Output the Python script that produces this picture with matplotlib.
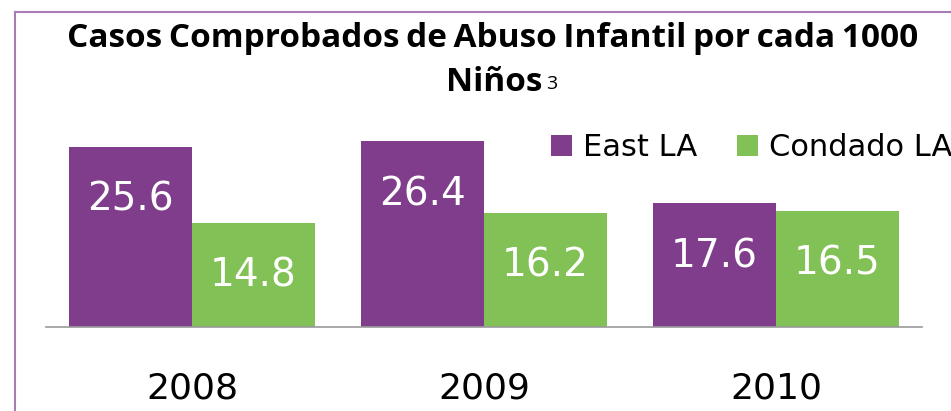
import matplotlib.pyplot as plt
import numpy as np
from matplotlib.font_manager import FontProperties
from matplotlib.textpath import TextPath

years = ['2008', '2009', '2010']
east_la = [25.6, 26.4, 17.6]
condado_la = [14.8, 16.2, 16.5]
series_names = ['East LA', 'Condado LA']
title_line1 = 'Casos Comprobados de Abuso Infantil por cada 1000'
title_line2 = 'Niños'

purple = '#7F3D8B'
green = '#82C155'
body_font = 'DejaVu Sans'
title_font = 'Open Sans'

W, H = 951, 411
fig = plt.figure(figsize=(W / 100, H / 100), dpi=100)
ax = fig.add_axes([46 / W, 84 / H, 876 / W, 211 / H])

x = np.arange(len(years))
width = 0.421
b1 = ax.bar(x - width / 2, east_la, width, color=purple, label=series_names[0])
b2 = ax.bar(x + width / 2, condado_la, width, color=green, label=series_names[1])

# value labels inside the bars, near the top
for rect in list(b1) + list(b2):
    h = rect.get_height()
    ax.annotate(f'{h:.1f}', xy=(rect.get_x() + rect.get_width() / 2, h),
                xytext=(0, -46), textcoords='offset points', ha='center', va='baseline',
                color='white', fontsize=28, family=body_font)

ax.set_xlim(-0.5, 2.5)
ax.set_ylim(0, 30)
ax.set_yticks([])
ax.set_xticks(x)
ax.set_xticklabels(years, fontsize=26, family=body_font)
ax.tick_params(axis='x', length=0, pad=32)
for s in ['left', 'right', 'top']:
    ax.spines[s].set_visible(False)
ax.spines['bottom'].set_color('#9A9A9A')
ax.spines['bottom'].set_linewidth(1.2)

fig.legend(loc='center left', bbox_to_anchor=(551 / W, 1 - 148 / H), ncol=2, frameon=False,
           prop={'family': body_font, 'size': 22}, handlelength=0.69, handleheight=0.69,
           handletextpad=0.36, columnspacing=1.3, borderpad=0, borderaxespad=0)

# title: tight word spacing, line 1 fitted to ~850 px
line1 = title_line1.replace(' ', '\u2009')
fp = FontProperties(family=title_font, weight='bold', size=100)
w100 = TextPath((0, 0), line1, prop=fp).get_extents().width * 100 / 72
tsize = 100 * 850 / w100
fig.text(493 / W, 1 - 47 / H, line1, ha='center', va='baseline',
         fontsize=tsize, fontweight='bold', family=title_font)
fig.text(542 / W, 1 - 91 / H, title_line2, ha='right', va='baseline',
         fontsize=tsize, fontweight='bold', family=title_font)
fig.text(546 / W, 1 - 93 / H, '3', ha='left', va='bottom', fontsize=14, family=title_font)

# thin purple frame on the left and top
frame_c = '#A67DB6'
fig.add_artist(plt.Line2D([15 / W, 15 / W], [0, 1 - 12 / H], transform=fig.transFigure,
                          color=frame_c, linewidth=1.5))
fig.add_artist(plt.Line2D([15 / W, 1], [1 - 12 / H, 1 - 12 / H], transform=fig.transFigure,
                          color=frame_c, linewidth=1.5))

fig.savefig('out.png', dpi=100)
